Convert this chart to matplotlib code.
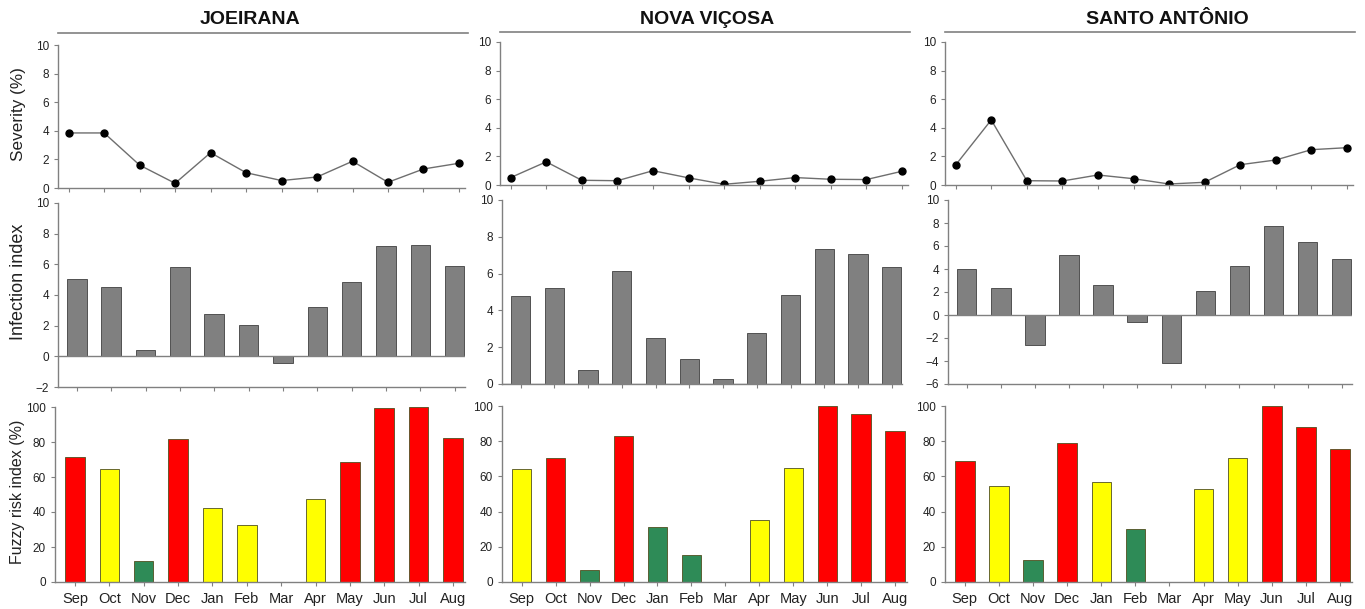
import numpy as np
import matplotlib
matplotlib.use("Agg")
import matplotlib.pyplot as plt
from matplotlib.lines import Line2D

plt.rcParams['font.family'] = ['Liberation Sans', 'DejaVu Sans']

months = ["Sep", "Oct", "Nov", "Dec", "Jan", "Feb", "Mar", "Apr", "May", "Jun", "Jul", "Aug"]
sites = ["JOEIRANA", "NOVA VIÇOSA", "SANTO ANTÔNIO"]

# severity (%)
sev_joeirana = [3.85, 3.85, 1.6, 0.33, 2.47, 1.07, 0.52, 0.77, 1.87, 0.4, 1.33, 1.73]
sev_nova = [0.52, 1.62, 0.33, 0.3, 1.0, 0.5, 0.05, 0.26, 0.52, 0.4, 0.38, 0.96]
sev_santo = [1.4, 4.55, 0.3, 0.28, 0.7, 0.44, 0.07, 0.19, 1.42, 1.75, 2.47, 2.61]

# infection index
inf_joeirana = [5.04, 4.52, 0.41, 5.85, 2.77, 2.03, -0.46, 3.23, 4.85, 7.18, 7.25, 5.9]
inf_nova = [4.8, 5.24, 0.76, 6.14, 2.5, 1.36, 0.27, 2.77, 4.84, 7.32, 7.05, 6.36]
inf_santo = [4.02, 2.33, -2.65, 5.25, 2.62, -0.58, -4.14, 2.13, 4.23, 7.73, 6.33, 4.84]

# fuzzy risk index (%) and risk class
fuz_joeirana = [71.5, 64.5, 11.8, 82.0, 42.1, 32.3, 0, 47.6, 68.7, 99.2, 99.8, 82.5]
fuz_nova = [64.3, 70.3, 7.0, 82.8, 31.4, 15.5, 0, 35.2, 64.7, 99.8, 95.7, 86.0]
fuz_santo = [69.0, 54.5, 12.4, 79.1, 57.1, 29.9, 0, 52.6, 70.5, 100.0, 88.0, 75.8]

cls_joeirana = ["H", "M", "L", "H", "M", "M", "L", "M", "H", "H", "H", "H"]
cls_nova = ["M", "H", "L", "H", "L", "L", "L", "M", "M", "H", "H", "H"]
cls_santo = ["H", "M", "L", "H", "M", "L", "L", "M", "M", "H", "H", "H"]

risk_colors = {"H": "#ff0000", "M": "#ffff00", "L": "#2e8b57"}

severity = [sev_joeirana, sev_nova, sev_santo]
infection = [inf_joeirana, inf_nova, inf_santo]
fuzzy = [fuz_joeirana, fuz_nova, fuz_santo]
classes = [cls_joeirana, cls_nova, cls_santo]
inf_ylims = [(-2, 10), (0, 10), (-6, 10)]

W, H = 1365, 609
fig = plt.figure(figsize=(W / 100, H / 100), dpi=100)

def box(x0, x1, y0, y1):
    # pixel box -> figure fraction
    return [x0 / W, 1 - y1 / H, (x1 - x0) / W, (y1 - y0) / H]

sev_boxes = [(58, 465, 45, 188), (500, 908, 42, 185), (945, 1353, 42, 185)]
inf_boxes = [(58, 465, 203, 387), (502, 902, 200, 384), (948, 1352, 200, 384)]
fuz_boxes = [(55, 465, 407, 582), (502, 907, 406, 582), (945, 1352, 406, 582)]
title_pos = [(250, 20), (707, 20), (1167, 19)]
line_pos = [(58, 468, 33), (500, 910, 32), (945, 1355, 32)]

axcol = "#808080"
x = np.arange(len(months))

def style(ax):
    for s in ["top", "right"]:
        ax.spines[s].set_visible(False)
    for s in ["left", "bottom"]:
        ax.spines[s].set_color(axcol)
        ax.spines[s].set_linewidth(1.0)
    ax.tick_params(axis="both", colors=axcol, labelcolor="#222222",
                   length=3, width=0.8, labelsize=8.5)
    ax.set_xticks(x)

for i in range(3):
    # severity
    ax = fig.add_axes(box(*sev_boxes[i]))
    ax.plot(x, severity[i], color="#6e6e6e", lw=1.0, marker="o",
            markersize=5, markerfacecolor="black", markeredgecolor="black")
    ax.set_ylim(0, 10)
    ax.set_xlim(-0.3, 11.17)
    ax.set_yticks([0, 2, 4, 6, 8, 10])
    style(ax)
    ax.set_xticklabels([])

    # infection index
    ax = fig.add_axes(box(*inf_boxes[i]))
    ax.bar(x, infection[i], width=0.57, color="#808080",
           edgecolor="#404040", linewidth=0.6, zorder=2)
    ax.axhline(0, color=axcol, lw=1.0, zorder=3)
    ax.set_ylim(*inf_ylims[i])
    ax.set_xlim(-0.55, 11.3)
    lo, hi = inf_ylims[i]
    ax.set_yticks(np.arange(lo, hi + 1, 2))
    style(ax)
    ax.set_xticklabels([])

    # fuzzy risk index
    ax = fig.add_axes(box(*fuz_boxes[i]))
    cols = [risk_colors[c] for c in classes[i]]
    ax.bar(x, fuzzy[i], width=0.57, color=cols,
           edgecolor="#505020", linewidth=0.6, zorder=2)
    ax.set_ylim(0, 100)
    ax.set_xlim(-0.58, 11.35)
    ax.set_yticks([0, 20, 40, 60, 80, 100])
    style(ax)
    ax.set_xticklabels(months, fontsize=10.5)
    ax.tick_params(axis="x", pad=4)

    # site title and underline
    tx, ty = title_pos[i]
    fig.text(tx / W, 1 - ty / H, sites[i], ha="center", va="center",
             fontsize=14, fontweight="bold", color="#111111")
    lx0, lx1, ly = line_pos[i]
    fig.add_artist(Line2D([lx0 / W, lx1 / W], [1 - ly / H, 1 - ly / H],
                          color="#808080", lw=1.2))

# row labels
fig.text(19 / W, 1 - 114 / H, "Severity (%)", rotation=90, ha="center",
         va="center", fontsize=12.3, color="#222222")
fig.text(19 / W, 1 - 282 / H, "Infection index", rotation=90, ha="center",
         va="center", fontsize=13, color="#222222")
fig.text(18 / W, 1 - 492 / H, "Fuzzy risk index (%)", rotation=90, ha="center",
         va="center", fontsize=11.5, color="#222222")

fig.savefig("out.png", dpi=100)
